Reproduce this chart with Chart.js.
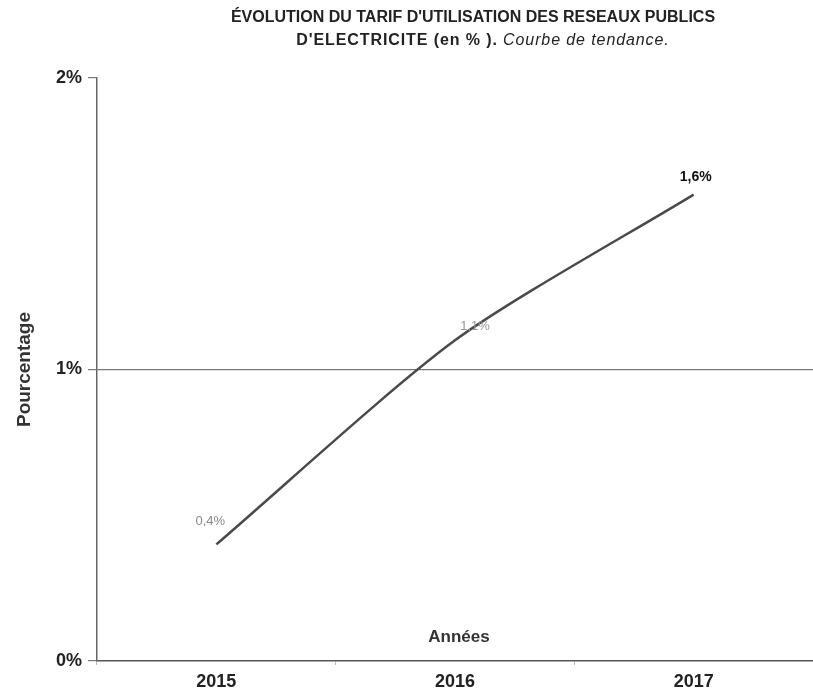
<!DOCTYPE html>
<html>
<head>
<meta charset="utf-8">
<script src="https://cdn.jsdelivr.net/npm/chart.js@4.4.1/dist/chart.umd.min.js"></script>
<style>
  body { margin: 0; background: #fff; }
  #wrap { position: relative; width: 813px; height: 692px; }
  .tline {
    position: absolute; left: 0; width: 800px; text-align: center;
    font-family: "Liberation Sans", Arial, sans-serif;
    font-size: 16px; font-weight: bold; color: #222; white-space: nowrap;
  }
  #t1 { top: 8px; left: 73px; }
  #t2 { top: 31px; left: 83px; letter-spacing: 0.9px; }
  .tline i { font-weight: normal; }
  canvas { position: absolute; left: 0; top: 0; }
</style>
</head>
<body>
<div id="wrap">
  <canvas id="chart" width="813" height="692"></canvas>
  <div class="tline" id="t1">ÉVOLUTION DU TARIF D'UTILISATION DES RESEAUX PUBLICS</div>
  <div class="tline" id="t2">D'ELECTRICITE (en % ). <i>Courbe de tendance.</i></div>
</div>
<script>
// data
const years = ['2015', '2016', '2017'];
const tarifValues = [0.4, 1.1, 1.6];
const yTicks = [0, 1, 2];

// label look for each point: [dx, dy, colour, bold, size]
const pointLabelStyle = [
  [-6, -23, '#888', false, 13],
  [20, -14, '#999', false, 13],
  [2, -17, '#111', true, 14]
];

const fontFamily = '"Liberation Sans", Arial, sans-serif';
const fmt = v => v.toFixed(1).replace('.', ',') + '%';

// draws value labels and the "Années" caption inside the plot
const extraText = {
  id: 'extraText',
  afterDatasetsDraw(chart) {
    const ctx = chart.ctx;
    const xs = chart.scales.x, ys = chart.scales.y;
    ctx.save();
    ctx.textAlign = 'center';
    ctx.textBaseline = 'middle';
    tarifValues.forEach((v, i) => {
      const st = pointLabelStyle[i];
      ctx.fillStyle = st[2];
      ctx.font = (st[3] ? 'bold ' : '') + st[4] + 'px ' + fontFamily;
      ctx.fillText(fmt(v), xs.getPixelForValue(i) + st[0], ys.getPixelForValue(v) + st[1]);
    });
    ctx.fillStyle = '#333';
    ctx.font = 'bold 17px ' + fontFamily;
    ctx.fillText('Années', xs.getPixelForValue(1) + 4, ys.bottom - 24);
    ctx.restore();
  }
};

new Chart(document.getElementById('chart'), {
  type: 'line',
  data: {
    labels: years,
    datasets: [{
      data: tarifValues,
      borderColor: '#4a4a4a',
      borderWidth: 2.5,
      tension: 0.25,
      pointRadius: 0,
      fill: false
    }]
  },
  options: {
    responsive: false,
    animation: false,
    layout: { padding: { top: 78, right: 0, left: 0, bottom: 0 } },
    plugins: { legend: { display: false }, tooltip: { enabled: false }, title: { display: false } },
    scales: {
      x: {
        offset: true,
        afterFit: s => { s.height = 31; },
        grid: {
          offset: true,
          drawOnChartArea: false,
          tickLength: 4,
          tickColor: '#bbb'
        },
        border: { color: '#555', width: 1.5 },
        ticks: {
          color: '#222',
          padding: 8,
          font: { family: fontFamily, size: 18, weight: 'bold', lineHeight: 1 }
        }
      },
      y: {
        min: 0,
        max: 2,
        afterBuildTicks: s => { s.ticks = yTicks.map(v => ({ value: v })); },
        afterFit: s => { s.width = 97; },
        grid: {
          color: c => (c.tick && c.tick.value === 1 ? '#777' : 'rgba(0,0,0,0)'),
          lineWidth: 1.2,
          tickLength: 9,
          tickColor: '#777'
        },
        border: { color: '#666', width: 1.5 },
        ticks: {
          color: '#222',
          padding: 6,
          callback: v => v + '%',
          font: { family: fontFamily, size: 18, weight: 'bold' }
        },
        title: {
          display: true,
          text: 'Pourcentage',
          color: '#333',
          padding: { top: 13, bottom: 0 },
          font: { family: fontFamily, size: 19, weight: 'bold' }
        }
      }
    }
  },
  plugins: [extraText]
});
</script>
</body>
</html>
